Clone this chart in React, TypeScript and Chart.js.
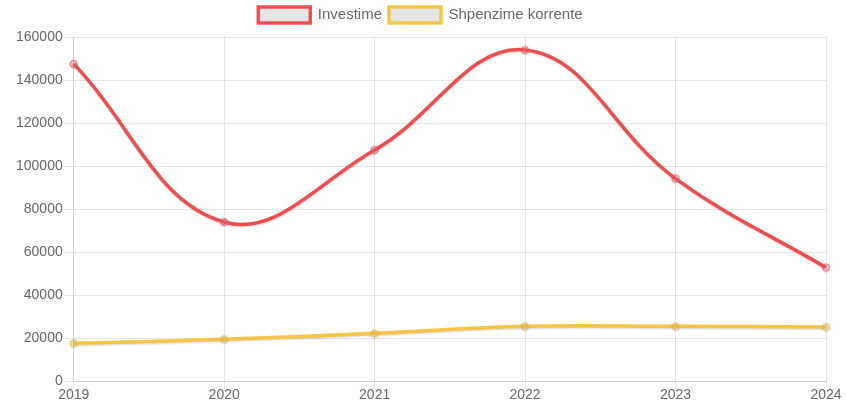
import React, { useEffect, useRef } from "react";
import { Chart, registerables } from "chart.js";

Chart.register(...registerables);

const years = ["2019", "2020", "2021", "2022", "2023", "2024"];
const investime = [147500, 74000, 107500, 154000, 94200, 52800];
const shpenzime = [17600, 19500, 22300, 25500, 25500, 25200];

export default function App() {
  const ref = useRef<HTMLCanvasElement>(null);
  useEffect(() => {
    if (!ref.current) return;
    const font = { family: "'Liberation Sans', Arial, sans-serif", size: 14 };
    const legendFont = { family: "'Liberation Sans', Arial, sans-serif", size: 15 };
    const legendGap = {
      id: "legendGap",
      beforeInit(chart: any) {
        const orig = chart.legend.fit;
        chart.legend.fit = function () {
          orig.bind(chart.legend)();
          this.height += 4;
        };
      },
    };
    const shadow = {
      id: "lineShadow",
      beforeDatasetsDraw(chart: any) {
        const ctx = chart.ctx;
        ctx.save();
        ctx.shadowColor = "rgba(0,0,0,0.18)";
        ctx.shadowBlur = 2;
        ctx.shadowOffsetX = 0;
        ctx.shadowOffsetY = 1;
      },
      afterDatasetsDraw(chart: any) {
        chart.ctx.restore();
      },
    };
    const chart = new Chart(ref.current, {
      type: "line",
      data: {
        labels: years,
        datasets: [
          {
            label: "Investime",
            data: investime,
            borderColor: "rgba(240,70,70,0.95)",
            backgroundColor: "rgba(0,0,0,0.1)",
            borderWidth: 3.5,
            tension: 0.4,
            pointRadius: 3.5,
            pointBorderColor: "rgba(240,90,100,0.6)",
            pointBackgroundColor: "rgba(240,120,130,0.3)",
            pointBorderWidth: 1.5,
            fill: false,
          },
          {
            label: "Shpenzime korrente",
            data: shpenzime,
            borderColor: "rgba(246,196,60,0.95)",
            backgroundColor: "rgba(0,0,0,0.1)",
            borderWidth: 3.5,
            tension: 0.4,
            pointRadius: 3.5,
            pointBorderColor: "rgba(240,190,80,0.6)",
            pointBackgroundColor: "rgba(240,200,100,0.4)",
            pointBorderWidth: 1.5,
            fill: false,
          },
        ],
      },
      plugins: [legendGap, shadow],
      options: {
        animation: false,
        responsive: true,
        maintainAspectRatio: false,
        layout: { padding: { left: 15, right: 20, top: 0, bottom: 6 } },
        plugins: {
          legend: {
            position: "top",
            labels: { color: "#666", font: legendFont, boxWidth: 52, boxHeight: 16, padding: 7 },
          },
          tooltip: { enabled: false },
        },
        scales: {
          x: {
            grid: { color: "rgba(0,0,0,0.1)", tickLength: 6 },
            ticks: { color: "#666", font, maxRotation: 0, padding: 0 },
          },
          y: {
            min: 0,
            max: 160000,
            grid: { color: "rgba(0,0,0,0.1)", tickLength: 10 },
            ticks: {
              color: "#666",
              font,
              stepSize: 20000,
              padding: 1,
              callback: (v: any) => String(v),
            },
          },
        },
      },
    });
    return () => chart.destroy();
  }, []);
  return (
    <div style={{ position: "fixed", left: 0, top: 0, width: 846, height: 410 }}>
      <canvas ref={ref} />
    </div>
  );
}
